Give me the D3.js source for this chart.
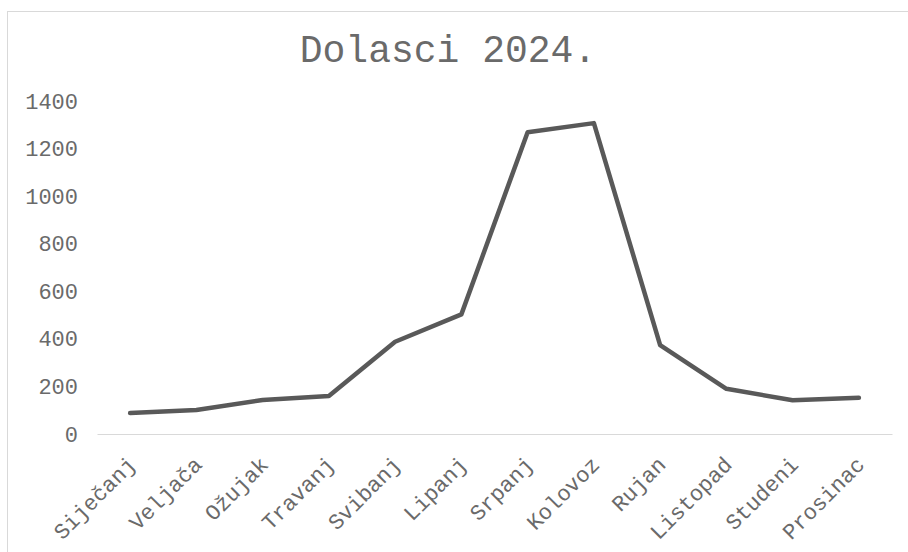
<!DOCTYPE html>
<html lang="hr">
<head>
    <meta charset="UTF-8">
    <title>Dolasci 2024.</title>
    <style>
        body { margin: 0; background: #fff; }
        #chart { display: block; }
        text { font-family: "Courier New", "Nimbus Mono PS", "FreeMono", Courier, "Liberation Mono", monospace; fill: #6a6a6a; }
    </style>
</head>
<body>
    <svg id="chart" width="908" height="552"></svg>

    <script src="https://d3js.org/d3.v7.min.js"></script>
    <script>
        // podaci
        const months = ["Siječanj", "Veljača", "Ožujak", "Travanj", "Svibanj", "Lipanj",
                        "Srpanj", "Kolovoz", "Rujan", "Listopad", "Studeni", "Prosinac"];
        const arrivals = [88, 101, 143, 160, 388, 503, 1269, 1307, 374, 190, 142, 152];
        const yTicks = [0, 200, 400, 600, 800, 1000, 1200, 1400];

        const svg = d3.select("#chart");

        // okvir grafikona
        svg.append("rect")
            .attr("x", 7.5).attr("y", 11.5)
            .attr("width", 920).attr("height", 560)
            .attr("fill", "none")
            .attr("stroke", "#d9d9d9");

        const margin = { top: 101, right: 16, bottom: 118, left: 97 };
        const width = 908 - margin.left - margin.right;
        const height = 552 - margin.top - margin.bottom;

        const x = d3.scaleBand().domain(months).range([0, width]);
        const y = d3.scaleLinear().domain([0, 1400]).range([height, 0]);

        const g = svg.append("g").attr("transform", `translate(${margin.left},${margin.top})`);

        // naslov
        svg.append("text")
            .attr("x", 448).attr("y", 62)
            .attr("text-anchor", "middle")
            .style("font-size", "38px")
            .text("Dolasci 2024.");

        // y os (samo oznake)
        const yAxis = g.append("g")
            .call(d3.axisLeft(y).tickValues(yTicks).tickFormat(d3.format("d")).tickSize(0).tickPadding(19));
        yAxis.select(".domain").remove();
        yAxis.selectAll("text").style("font-size", "22px").attr("fill", "#6a6a6a");

        // x os
        const xAxis = g.append("g")
            .attr("transform", `translate(0,${height})`)
            .call(d3.axisBottom(x).tickSize(0).tickPadding(0));
        xAxis.select(".domain").attr("stroke", "#d9d9d9").attr("stroke-width", 1);
        xAxis.selectAll("text")
            .style("font-size", "22px")
            .attr("fill", "#6a6a6a")
            .attr("text-anchor", "end")
            .attr("dy", null)
            .attr("transform", "translate(7,32) rotate(-45)");

        // linija
        const line = d3.line()
            .x((d, i) => x(months[i]) + x.bandwidth() / 2)
            .y(d => y(d));

        g.append("path")
            .datum(arrivals)
            .attr("fill", "none")
            .attr("stroke", "#595959")
            .attr("stroke-width", 4.5)
            .attr("stroke-linejoin", "round")
            .attr("stroke-linecap", "round")
            .attr("d", line);
    </script>
</body>
</html>
